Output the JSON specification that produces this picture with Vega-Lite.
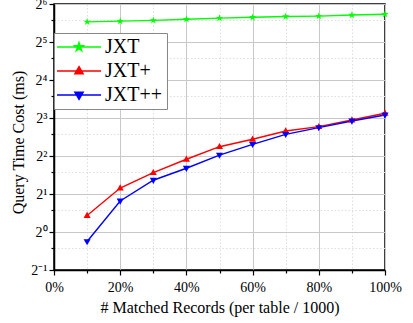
{
  "$schema": "https://vega.github.io/schema/vega-lite/v6.json",
  "width": 331,
  "height": 266,
  "autosize": "none",
  "padding": {"left": 54, "top": 4, "right": 28, "bottom": 53},
  "background": "white",
  "config": {
    "view": {"stroke": "black", "strokeWidth": 1.5},
    "axis": {
      "labelFont": "Liberation Serif",
      "titleFont": "Liberation Serif",
      "labelColor": "black",
      "titleColor": "black",
      "titleFontWeight": "normal",
      "labelFontSize": 14,
      "titleFontSize": 16,
      "domainColor": "black",
      "domainWidth": 1.5,
      "tickColor": "black",
      "tickWidth": 1.2
    }
  },
  "data": {
    "values": [
      {"x": 10, "series": "JXT", "y": 46.2},
      {"x": 20, "series": "JXT", "y": 46.8},
      {"x": 30, "series": "JXT", "y": 47.5},
      {"x": 40, "series": "JXT", "y": 48.5},
      {"x": 50, "series": "JXT", "y": 49.5},
      {"x": 60, "series": "JXT", "y": 50.2},
      {"x": 70, "series": "JXT", "y": 50.9},
      {"x": 80, "series": "JXT", "y": 51.3},
      {"x": 90, "series": "JXT", "y": 52.3},
      {"x": 100, "series": "JXT", "y": 53.1},
      {"x": 10, "series": "JXT+", "y": 1.35},
      {"x": 20, "series": "JXT+", "y": 2.23},
      {"x": 30, "series": "JXT+", "y": 2.95},
      {"x": 40, "series": "JXT+", "y": 3.77},
      {"x": 50, "series": "JXT+", "y": 4.74},
      {"x": 60, "series": "JXT+", "y": 5.43},
      {"x": 70, "series": "JXT+", "y": 6.31},
      {"x": 80, "series": "JXT+", "y": 6.83},
      {"x": 90, "series": "JXT+", "y": 7.71},
      {"x": 100, "series": "JXT+", "y": 8.72},
      {"x": 10, "series": "JXT++", "y": 0.84},
      {"x": 20, "series": "JXT++", "y": 1.76},
      {"x": 30, "series": "JXT++", "y": 2.57},
      {"x": 40, "series": "JXT++", "y": 3.2},
      {"x": 50, "series": "JXT++", "y": 4.07},
      {"x": 60, "series": "JXT++", "y": 4.95},
      {"x": 70, "series": "JXT++", "y": 5.94},
      {"x": 80, "series": "JXT++", "y": 6.71},
      {"x": 90, "series": "JXT++", "y": 7.57},
      {"x": 100, "series": "JXT++", "y": 8.45}
    ]
  },
  "encoding": {
    "x": {
      "field": "x",
      "type": "quantitative",
      "scale": {"domain": [0, 100], "nice": false, "zero": false},
      "axis": {
        "title": "# Matched Records (per table / 1000)",
        "values": [0, 10, 20, 30, 40, 50, 60, 70, 80, 90, 100],
        "labelExpr": "datum.value % 20 == 0 ? datum.value + '%' : ''",
        "labelPadding": 5,
        "labelFlush": false,
        "labelOverlap": false,
        "tickSize": {"condition": {"test": "datum.value % 20 == 0", "value": 5}, "value": 3},
        "grid": true,
        "gridColor": {"condition": {"test": "datum.value % 20 == 0", "value": "#c8c8c8"}, "value": "#dedede"},
        "gridDash": {"condition": {"test": "datum.value % 20 == 0", "value": []}, "value": [1.5, 2]},
        "gridWidth": 1,
        "titleX": 165.5,
        "titleY": 42,
        "titleBaseline": "alphabetic"
      }
    },
    "y": {
      "field": "y",
      "type": "quantitative",
      "scale": {"type": "log", "base": 2, "domain": [0.5, 64], "nice": false, "zero": false},
      "axis": {
        "title": "Query Time Cost (ms)",
        "values": [0.5, 0.75, 1, 1.5, 2, 3, 4, 6, 8, 12, 16, 24, 32, 48, 64],
        "labelExpr": "datum.value==0.5?'2⁻¹':datum.value==1?'2⁰':datum.value==2?'2¹':datum.value==4?'2²':datum.value==8?'2³':datum.value==16?'2⁴':datum.value==32?'2⁵':datum.value==64?'2⁶':''",
        "labelPadding": 2,
        "labelOverlap": false,
        "labelFlush": false,
        "tickSize": {"condition": {"test": "indexof([0.5,1,2,4,8,16,32,64], datum.value) >= 0", "value": 5}, "value": 3},
        "grid": true,
        "gridColor": {"condition": {"test": "indexof([0.5,1,2,4,8,16,32,64], datum.value) >= 0", "value": "#c8c8c8"}, "value": "#dedede"},
        "gridDash": {"condition": {"test": "indexof([0.5,1,2,4,8,16,32,64], datum.value) >= 0", "value": []}, "value": [1.5, 2]},
        "gridWidth": 1,
        "titleX": -31,
        "titleY": 138,
        "titleBaseline": "alphabetic"
      }
    },
    "color": {
      "field": "series",
      "type": "nominal",
      "scale": {"domain": ["JXT", "JXT+", "JXT++"], "range": ["#00ff00", "#ff0000", "#0000ff"]},
      "legend": {
        "title": null,
        "orient": "none",
        "legendX": 0,
        "legendY": 29,
        "fillColor": "white",
        "strokeColor": "#888888",
        "padding": 4,
        "labelFont": "Liberation Serif",
        "labelFontSize": 20,
        "labelColor": "black",
        "symbolSize": 100,
        "symbolOpacity": 1,
        "symbolStrokeWidth": 1.6,
        "symbolOffset": 11,
        "labelOffset": 16,
        "rowPadding": 4
      }
    }
  },
  "layer": [
    {
      "mark": {"type": "point", "filled": true, "opacity": 0, "size": 10},
      "encoding": {
        "shape": {
          "field": "series",
          "type": "nominal",
          "scale": {
            "domain": ["JXT", "JXT+", "JXT++"],
            "range": [
              "M-4.4,0L4.4,0 M0,-0.85L0.19,-0.26L0.81,-0.26L0.31,0.1L0.5,0.69L0,0.32L-0.5,0.69L-0.31,0.1L-0.81,-0.26L-0.19,-0.26Z M0,-0.51L0.114,-0.156L0.486,-0.156L0.186,0.06L0.3,0.414L0,0.192L-0.3,0.414L-0.186,0.06L-0.486,-0.156L-0.114,-0.156Z M0,-0.255L0.057,-0.078L0.243,-0.078L0.093,0.03L0.15,0.207L0,0.096L-0.15,0.207L-0.093,0.03L-0.243,-0.078L-0.057,-0.078Z",
              "M-4.4,0L4.4,0 M0,-0.85L0.8,0.55L-0.8,0.55Z M0,-0.51L0.48,0.33L-0.48,0.33Z M0,-0.21L0.2,0.14L-0.2,0.14Z",
              "M-4.4,0L4.4,0 M0,0.85L0.8,-0.55L-0.8,-0.55Z M0,0.51L0.48,-0.33L-0.48,-0.33Z M0,0.21L0.2,-0.14L-0.2,-0.14Z"
            ]
          },
          "legend": {"title": null}
        }
      }
    },
    {
      "mark": {"type": "line", "strokeWidth": 1.4}
    },
    {
      "transform": [{"filter": "datum.series === 'JXT'"}],
      "mark": {"type": "point", "filled": true, "opacity": 1, "size": 60, "shape": "M0,-1L0.225,-0.309L0.951,-0.309L0.363,0.118L0.588,0.809L0,0.382L-0.588,0.809L-0.363,0.118L-0.951,-0.309L-0.225,-0.309Z"}
    },
    {
      "transform": [{"filter": "datum.series === 'JXT+'"}],
      "mark": {"type": "point", "filled": true, "opacity": 1, "size": 55, "shape": "M0,-1L0.95,0.65L-0.95,0.65Z"}
    },
    {
      "transform": [{"filter": "datum.series === 'JXT++'"}],
      "mark": {"type": "point", "filled": true, "opacity": 1, "size": 55, "shape": "M0,1L0.95,-0.65L-0.95,-0.65Z"}
    }
  ]
}
